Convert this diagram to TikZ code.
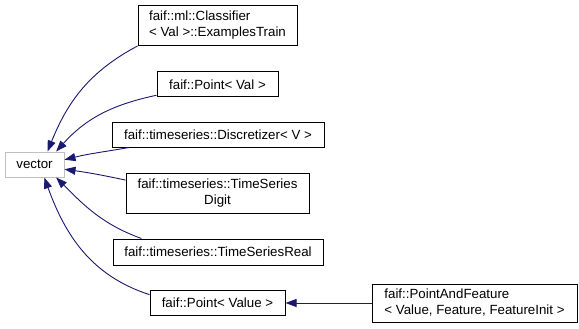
\documentclass[tikz,border=0pt]{standalone}
\usepackage{fontspec}
\setmainfont{Liberation Sans}
\usepackage{tikz}
\usetikzlibrary{arrows.meta}
\definecolor{edgeblue}{RGB}{25,25,112}
\definecolor{basegray}{RGB}{191,191,191}

\begin{document}
\begin{tikzpicture}[x=1pt,y=-1pt,>={Triangle[length=11pt,width=8pt]},
  font=\fontsize{13.3}{16}\selectfont,
  cls/.style={draw=black,line width=1pt,inner sep=0pt,minimum height=25pt},
  base/.style={cls,draw=basegray},
  inherit/.style={<-,draw=edgeblue,fill=none,line width=0.9pt,
    every arrow/.append style={fill=edgeblue}}]
\useasboundingbox (0,0) rectangle (579,329);
\node[base,minimum width=59pt] (vector) at (34.5,164.5) {vector};
\node[cls,minimum width=159pt,minimum height=40pt,align=left] (examplesTrain) at (217.5,25.5) {faif::ml::Classifier\\< Val >::ExamplesTrain};
\node[cls,minimum width=121pt] (pointVal) at (217.5,84.5) {faif::Point< Val >};
\node[cls,minimum width=212pt,minimum height=24pt] (discretizer) at (218,135) {faif::timeseries::Discretizer< V >};
\node[cls,minimum width=183pt,minimum height=40pt,align=center] (tsDigit) at (217.5,193) {faif::timeseries::TimeSeries\\Digit};
\node[cls,minimum width=210pt,minimum height=26pt] (tsReal) at (218,252) {faif::timeseries::TimeSeriesReal};
\node[cls,minimum width=135pt] (pointValue) at (217.5,303) {faif::Point< Value >};
\node[cls,minimum width=205pt,minimum height=38pt,align=left] (pointFeature) at (474.5,303) {faif::PointAndFeature\\< Value, Feature, FeatureInit >};
\draw[inherit] (vector.45) to[out=68,in=208] (examplesTrain.south west);
\draw[inherit] (vector.31) to[out=48,in=192] (pointVal.190);
\draw[inherit] (vector.9) to[out=14,in=190] (discretizer.188);
\draw[inherit] (vector.-9) to[out=-8,in=168] (tsDigit.172);
\draw[inherit] (vector.-31) to[out=-45,in=160] (tsReal.170);
\draw[inherit] (vector.-53) to[out=-70,in=162] (pointValue.173);
\draw[inherit] (pointValue.east) -- (pointFeature.west);
\end{tikzpicture}
\end{document}
